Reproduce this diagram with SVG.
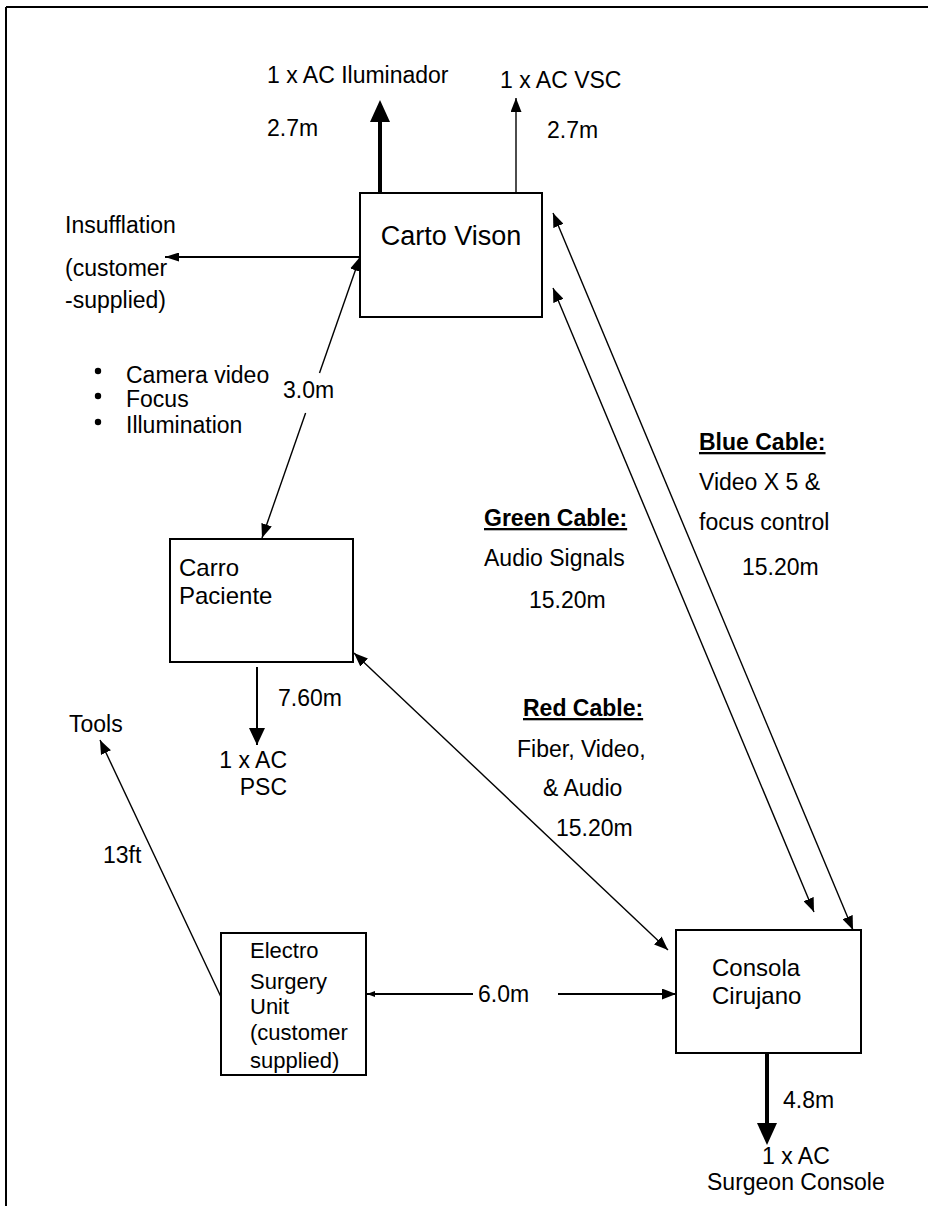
<svg xmlns="http://www.w3.org/2000/svg" width="928" height="1206" viewBox="0 0 928 1206">
<style>
text{font-family:"Liberation Sans",Arial,sans-serif;font-size:23px;fill:#000}
.big{font-size:27px}
.node{font-size:24px}
.esu{font-size:22px}
.hdr{font-weight:bold;text-decoration:underline}
.box{fill:#fff;stroke:#000;stroke-width:2}
.thin{stroke:#000;stroke-width:1.4;fill:none}
.med{stroke:#000;stroke-width:2;fill:none}
.thick{stroke:#000;stroke-width:4;fill:none}
</style>
<defs>
<marker id="ah" viewBox="0 0 14 11" refX="14" refY="5.5" markerWidth="14" markerHeight="11" markerUnits="userSpaceOnUse" orient="auto-start-reverse"><path d="M0,0 L14,5.5 L0,11 z"/></marker>
<marker id="ahS" viewBox="0 0 14 9" refX="14" refY="4.5" markerWidth="14" markerHeight="9" markerUnits="userSpaceOnUse" orient="auto-start-reverse"><path d="M0,0 L14,4.5 L0,9 z"/></marker>
<marker id="ahT" viewBox="0 0 8 6" refX="8" refY="3" markerWidth="8" markerHeight="6" markerUnits="userSpaceOnUse" orient="auto"><path d="M0,0 L8,3 L0,6 z"/></marker>
<marker id="ahM" viewBox="0 0 17 16" refX="17" refY="8" markerWidth="17" markerHeight="16" markerUnits="userSpaceOnUse" orient="auto"><path d="M0,0 L17,8 L0,16 z"/></marker>
<marker id="ahB" viewBox="0 0 22 20" refX="1" refY="10" markerWidth="22" markerHeight="20" markerUnits="userSpaceOnUse" orient="auto"><path d="M0,0 L22,10 L0,20 z"/></marker>
</defs>
<g id="frame" stroke="#000" stroke-width="2" fill="none">
<line x1="6" y1="7" x2="928" y2="7"/>
<line x1="6" y1="7" x2="6" y2="1206"/>
</g>
<g id="connectors">
<line class="thick" x1="380" y1="193" x2="380" y2="121" marker-end="url(#ahB)"/>
<line class="thin" x1="516" y1="193" x2="516" y2="98" marker-end="url(#ah)"/>
<line class="med" x1="360" y1="257" x2="165" y2="257" marker-end="url(#ahS)"/>
<line class="thin" x1="319.5" y1="373" x2="360" y2="257" marker-end="url(#ah)"/>
<line class="thin" x1="305.6" y1="413" x2="262" y2="538" marker-end="url(#ah)"/>
<line class="med" x1="257" y1="667" x2="257" y2="745" marker-end="url(#ahM)"/>
<line class="thin" x1="221" y1="997" x2="100" y2="740" marker-end="url(#ah)"/>
<line class="thin" x1="354" y1="653" x2="668" y2="950" marker-start="url(#ah)" marker-end="url(#ah)"/>
<line class="thin" x1="553" y1="288" x2="814" y2="912" marker-start="url(#ah)" marker-end="url(#ah)"/>
<line class="thin" x1="553" y1="213" x2="853" y2="930" marker-start="url(#ah)" marker-end="url(#ah)"/>
<line class="med" x1="473" y1="994" x2="367" y2="994" marker-end="url(#ahT)"/>
<line class="med" x1="558" y1="994" x2="676" y2="994" marker-end="url(#ah)"/>
<line class="thick" x1="767" y1="1053" x2="767" y2="1124" marker-end="url(#ahB)"/>
</g>
<g id="labels">
<text x="267" y="83">1 x AC Iluminador</text>
<text x="267" y="136">2.7m</text>
<text x="500" y="88">1 x AC VSC</text>
<text x="547" y="138">2.7m</text>
<text x="65" y="233">Insufflation</text>
<text x="65" y="276">(customer</text>
<text x="65" y="308">-supplied)</text>
<circle cx="98" cy="371" r="3.2"/>
<circle cx="98" cy="396" r="3.2"/>
<circle cx="98" cy="422" r="3.2"/>
<text x="126" y="383">Camera video</text>
<text x="126" y="407">Focus</text>
<text x="126" y="433">Illumination</text>
<text x="283" y="398">3.0m</text>
<text x="278" y="706">7.60m</text>
<text x="287" y="768" text-anchor="end">1 x AC</text>
<text x="287" y="795" text-anchor="end">PSC</text>
<text x="69" y="732">Tools</text>
<text x="103" y="863">13ft</text>
<text class="hdr" x="699" y="450">Blue Cable:</text>
<text x="699" y="490">Video X 5 &amp;</text>
<text x="699" y="530">focus control</text>
<text x="742" y="575">15.20m</text>
<text class="hdr" x="484" y="526">Green Cable:</text>
<text x="484" y="566">Audio Signals</text>
<text x="529" y="608">15.20m</text>
<text class="hdr" x="523" y="716">Red Cable:</text>
<text x="517" y="757">Fiber, Video,</text>
<text x="543" y="796">&amp; Audio</text>
<text x="556" y="836">15.20m</text>
<text x="478" y="1002">6.0m</text>
<text x="783" y="1108">4.8m</text>
<text x="762" y="1164">1 x AC</text>
<text x="707" y="1190">Surgeon Console</text>
</g>
<g id="carto-vison">
<rect class="box" x="360" y="193" width="182" height="124"/>
<text class="big" x="451" y="245" text-anchor="middle">Carto Vison</text>
</g>
<g id="carro-paciente">
<rect class="box" x="170" y="539" width="183" height="123"/>
<text class="node" x="179" y="576">Carro</text>
<text class="node" x="179" y="604">Paciente</text>
</g>
<g id="electro-surgery-unit">
<rect class="box" x="221" y="933" width="145" height="142"/>
<text class="esu" x="250" y="958">Electro</text>
<text class="esu" x="250" y="989">Surgery</text>
<text class="esu" x="250" y="1014">Unit</text>
<text class="esu" x="250" y="1040">(customer</text>
<text class="esu" x="250" y="1068">supplied)</text>
</g>
<g id="consola-cirujano">
<rect class="box" x="676" y="930" width="185" height="123"/>
<text class="node" x="712" y="976">Consola</text>
<text class="node" x="712" y="1004">Cirujano</text>
</g>
</svg>
